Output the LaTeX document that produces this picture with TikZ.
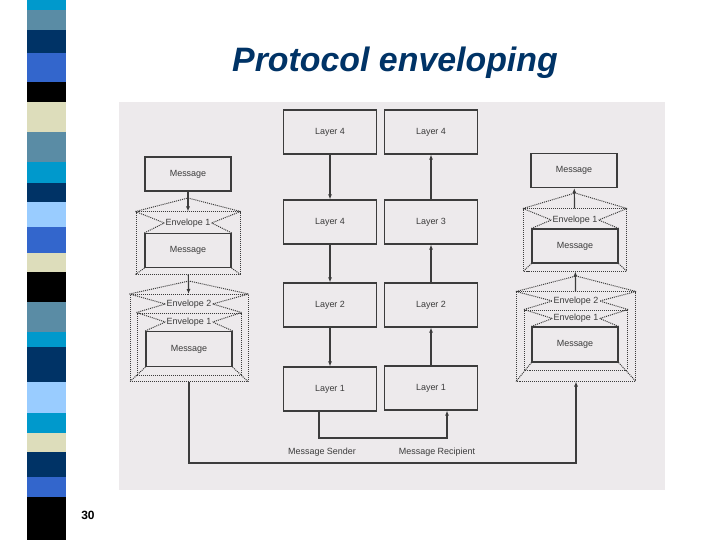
\documentclass[tikz,border=0pt]{standalone}
\usepackage{fontspec}
\setsansfont{Liberation Sans}
\usetikzlibrary{arrows.meta}
\definecolor{scan}{RGB}{237,234,236}
\definecolor{ink}{RGB}{60,60,60}
\definecolor{navy}{RGB}{0,51,102}
\definecolor{stcyan}{RGB}{0,153,204}
\definecolor{ststeel}{RGB}{90,140,165}
\definecolor{stroyal}{RGB}{51,102,204}
\definecolor{stbeige}{RGB}{221,221,187}
\definecolor{stlight}{RGB}{153,204,255}

\begin{document}
\begin{tikzpicture}[x=1bp,y=-1bp,
  layer/.style={draw=ink,line width=1.2bp,fill=scan,minimum width=93bp,
     minimum height=44bp,inner sep=0pt,text=ink,
     font=\sffamily\fontsize{9}{10}\selectfont},
  msg/.style={layer,minimum width=86bp,minimum height=34bp},
  env/.style={draw=ink,densely dotted,line width=1bp,inner sep=0pt},
  tag/.style={inner sep=1bp,text=ink,font=\sffamily\fontsize{9}{10}\selectfont},
  flap/.style={draw=ink,densely dotted,line width=1bp},
  link/.style={draw=ink,line width=1.2bp,-{Latex[length=5bp,width=4bp]}}]
\useasboundingbox (0,0) rectangle (720,540);
\fill[white] (0,0) rectangle (720,540);
% stripe down the left side
\foreach \ya/\yb/\c in {0/10/stcyan,10/30/ststeel,30/53/navy,53/82/stroyal,
  82/102/black,102/132/stbeige,132/162/ststeel,162/183/stcyan,183/202/navy,
  202/227/stlight,227/253/stroyal,253/272/stbeige,272/302/black,302/332/ststeel,
  332/347/stcyan,347/382/navy,382/413/stlight,413/433/stcyan,433/452/stbeige,
  452/477/navy,477/497/stroyal,497/540/black}
  \fill[\c] (27,\ya) rectangle (66,\yb);
\node[anchor=base,text=navy,font=\sffamily\bfseries\itshape\fontsize{34}{40}\selectfont]
  (title) at (395,72) {Protocol enveloping};
\node[anchor=base,font=\sffamily\bfseries\fontsize{12}{14}\selectfont] (page) at (88,519) {30};
\fill[scan] (119,102) rectangle (665,490);

% layers
\node[layer] (ls4) at (330,132) {Layer 4};
\node[layer] (ls4b) at (330,222) {Layer 4};
\node[layer] (ls2) at (330,305) {Layer 2};
\node[layer] (ls1) at (330,389) {Layer 1};
\node[layer] (lr4) at (431,132) {Layer 4};
\node[layer] (lr3) at (431,222) {Layer 3};
\node[layer] (lr2) at (431,305) {Layer 2};
\node[layer] (lr1) at (431,388) {Layer 1};
\draw[link] (ls4)--(ls4b);\draw[link] (ls4b)--(ls2);\draw[link] (ls2)--(ls1);
\draw[link] (lr1)--(lr2);\draw[link] (lr2)--(lr3);\draw[link] (lr3)--(lr4);

% sender side
\node[msg] (m0l) at (188,174) {Message};
\node[env,minimum width=104bp,minimum height=62bp] (e1l) at (188,243) {};
\node[msg] (m1l) at (188,250.5) {Message};
\node[tag] (t1l) at (188,223) {Envelope 1};
\coordinate (a1l) at (188,198);
\draw[flap] (e1l.north west)--(a1l)--(e1l.north east)
  (e1l.north west)--(t1l.west) (e1l.north east)--(t1l.east)
  (m1l.north west)--(t1l.west) (m1l.north east)--(t1l.east)
  (m1l.south west)--(e1l.south west) (m1l.south east)--(e1l.south east);
\node[env,minimum width=118bp,minimum height=87bp] (e2l) at (189,338) {};
\node[env,minimum width=104bp,minimum height=62bp] (i2l) at (189,344) {};
\node[msg,minimum height=35bp] (m2l) at (189,349) {Message};
\node[tag] (t2l) at (189,304) {Envelope 2};
\node[tag] (t3l) at (189,322) {Envelope 1};
\coordinate (a2l) at (189,281);
\draw[flap] (e2l.north west)--(a2l)--(e2l.north east)
  (e2l.north west)--(t2l.west) (e2l.north east)--(t2l.east)
  (i2l.north west)--(t2l.west) (i2l.north east)--(t2l.east)
  (i2l.north west)--(t3l.west) (i2l.north east)--(t3l.east)
  (m2l.north west)--(t3l.west) (m2l.north east)--(t3l.east)
  (m2l.south west)--(e2l.south west) (m2l.south east)--(e2l.south east);
\draw[link] (m0l)--(e1l);
\draw[link] (e1l)--(e2l);

% recipient side
\node[msg] (m0r) at (574,170.5) {Message};
\node[env,minimum width=103bp,minimum height=62bp] (e1r) at (575,240) {};
\node[msg] (m1r) at (575,246) {Message};
\node[tag] (t1r) at (575,220) {Envelope 1};
\coordinate (a1r) at (575,193);
\draw[flap] (e1r.north west)--(a1r)--(e1r.north east)
  (e1r.north west)--(t1r.west) (e1r.north east)--(t1r.east)
  (m1r.north west)--(t1r.west) (m1r.north east)--(t1r.east)
  (m1r.south west)--(e1r.south west) (m1r.south east)--(e1r.south east);
\node[env,minimum width=119bp,minimum height=89bp] (e2r) at (576,336.5) {};
\node[env,minimum width=103bp,minimum height=60bp] (i2r) at (576,340) {};
\node[msg,minimum height=35bp] (m2r) at (575,344.5) {Message};
\node[tag] (t2r) at (576,301) {Envelope 2};
\node[tag] (t3r) at (576,318.5) {Envelope 1};
\coordinate (a2r) at (576,276);
\draw[flap] (e2r.north west)--(a2r)--(e2r.north east)
  (e2r.north west)--(t2r.west) (e2r.north east)--(t2r.east)
  (i2r.north west)--(t2r.west) (i2r.north east)--(t2r.east)
  (i2r.north west)--(t3r.west) (i2r.north east)--(t3r.east)
  (m2r.north west)--(t3r.west) (m2r.north east)--(t3r.east)
  (m2r.south west)--(e2r.south west) (m2r.south east)--(e2r.south east);
\draw[link] (e1r)--(m0r);
\draw[link] (e2r)--(e1r);

% bottom lines
\coordinate (sb) at (319,438);
\coordinate (rb) at (447,438);
\draw[link] (ls1.south -| sb)--(sb)--(rb)--(lr1.south -| rb);
\coordinate (ol) at (189,463);
\coordinate (or) at (576,463);
\draw[link] (e2l.south -| ol)--(ol)--(or)--(e2r.south -| or);
\node[tag] (snd) at (322,452) {Message Sender};
\node[tag] (rcp) at (437,452) {Message Recipient};
\end{tikzpicture}
\end{document}
